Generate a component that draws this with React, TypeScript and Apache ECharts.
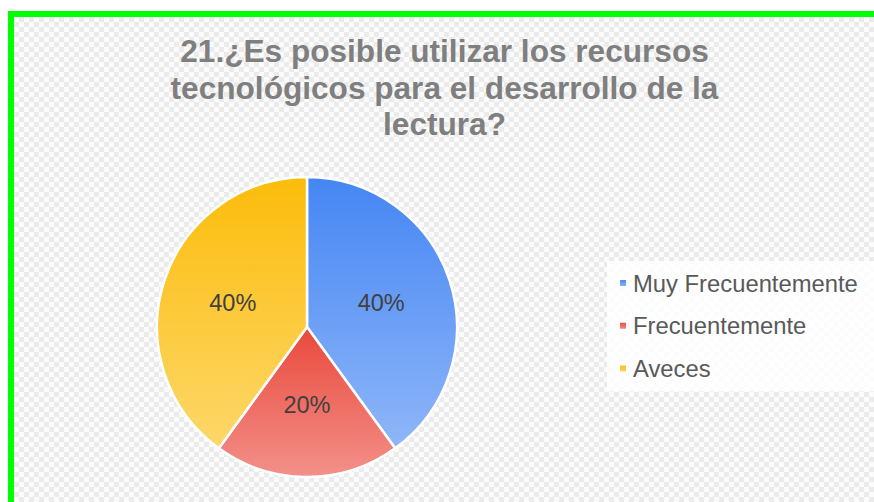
import React, { useEffect, useRef } from "react";
import * as echarts from "echarts";

const titleLines = [
  "21.¿Es posible utilizar los recursos",
  "tecnológicos para el desarrollo de la",
  "lectura?",
];
const categories = ["Muy Frecuentemente", "Frecuentemente", "Aveces"];
const values = [40, 20, 40];
const topColors = ["#4586f3", "#e9493b", "#fbbc0a"];
const bottomColors = ["#8fb6f8", "#f3908a", "#fdd76a"];

export default function App() {
  const ref = useRef<HTMLDivElement>(null);
  useEffect(() => {
    if (!ref.current) return;
    const chart = echarts.init(ref.current, null, { renderer: "svg" });
    chart.setOption({
      animation: false,
      backgroundColor: "transparent",
      graphic: [
        {
          type: "rect",
          shape: { x: 11, y: 14, width: 880, height: 510 },
          style: { fill: "none", stroke: "#00ff00", lineWidth: 6 },
          z: 10,
        },
        {
          type: "text",
          x: 444.5,
          y: 33,
          style: {
            text: titleLines.join("\n"),
            align: "center",
            verticalAlign: "top",
            fontFamily: "Liberation Sans, Arial, sans-serif",
            fontWeight: "bold",
            fontSize: 31.6,
            lineHeight: 36.5,
            fill: "#7f7f7f",
          },
        },
      ],
      legend: {
        orient: "vertical",
        left: 607,
        top: 261,
        padding: [10, 20, 11, 11],
        backgroundColor: "rgba(255,255,255,0.85)",
        itemWidth: 8,
        itemHeight: 8,
        itemGap: 18.8,
        icon: "rect",
        data: categories,
        textStyle: {
          fontFamily: "Liberation Sans, Arial, sans-serif",
          fontSize: 23.8,
          lineHeight: 23.8,
          color: "#595959",
          padding: [0, 0, 0, 1],
        },
      },
      series: [
        {
          type: "pie",
          center: [307, 327],
          radius: [0, 150],
          startAngle: 90,
          clockwise: true,
          label: {
            show: true,
            position: "inside",
            formatter: "{d}%",
            fontFamily: "Liberation Sans, Arial, sans-serif",
            fontSize: 23.5,
            color: "#404040",
          },
          labelLine: { show: false },
          emphasis: { disabled: true },
          itemStyle: { borderColor: "#ffffff", borderWidth: 2.5 },
          data: categories.map((name, i) => ({
            name,
            value: values[i],
            itemStyle: {
              color: new echarts.graphic.LinearGradient(0, 0, 0, 1, [
                { offset: 0, color: topColors[i] },
                { offset: 1, color: bottomColors[i] },
              ]),
            },
          })),
        },
      ],
    });
    return () => chart.dispose();
  }, []);

  return (
    <div
      style={{
        position: "fixed",
        left: 0,
        top: 0,
        width: 874,
        height: 502,
        background: "#ffffff",
        overflow: "hidden",
      }}
    >
      <div
        style={{
          position: "absolute",
          left: 14,
          top: 17,
          right: 0,
          bottom: 0,
          backgroundImage:
            "repeating-conic-gradient(#ebebeb 0% 25%, #fbfbfb 0% 50%)",
          backgroundSize: "10px 10px",
        }}
      />
      <div
        ref={ref}
        style={{ position: "absolute", left: 0, top: 0, width: 874, height: 502 }}
      />
    </div>
  );
}
